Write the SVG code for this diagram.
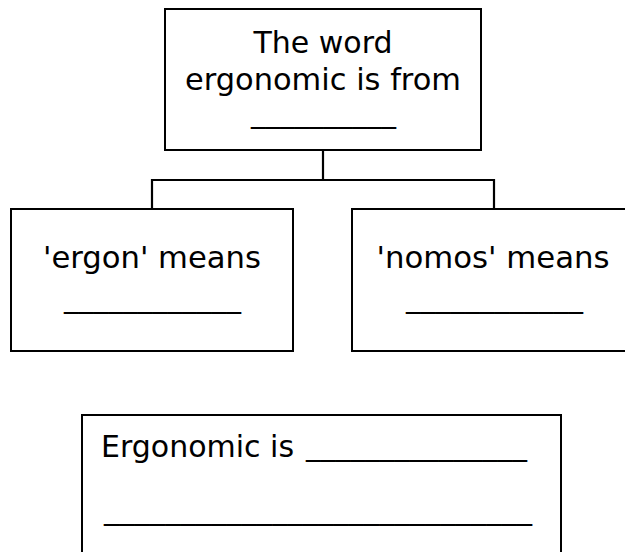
<svg xmlns="http://www.w3.org/2000/svg" width="625" height="552" viewBox="0 0 625 552">
<style>
.box{fill:#fff;stroke:#000;stroke-width:2}
.conn{fill:none;stroke:#000;stroke-width:2.2}
text{font-family:"DejaVu Sans","Liberation Sans",sans-serif;font-size:30px;fill:#000}
.c{text-anchor:middle}
</style>
<rect width="625" height="552" fill="#fff"/>
<g id="connectors">
<path class="conn" d="M323 150V180M152 209V180H494V209"/>
</g>
<g id="top">
<rect class="box" x="165" y="9" width="316" height="141"/>
<text class="c" x="323" y="53">The word</text>
<text class="c" x="323" y="90" textLength="276" lengthAdjust="spacingAndGlyphs">ergonomic is from</text>
<text x="251" y="122" textLength="145" lengthAdjust="spacingAndGlyphs">__________</text>
</g>
<g id="ergon">
<rect class="box" x="11" y="209" width="282" height="142"/>
<text class="c" x="152" y="268" textLength="218" lengthAdjust="spacingAndGlyphs">'ergon' means</text>
<text x="64" y="307" textLength="177" lengthAdjust="spacingAndGlyphs">____________</text>
</g>
<g id="nomos">
<rect class="box" x="352" y="209" width="290" height="142"/>
<text class="c" x="493" y="268" textLength="233" lengthAdjust="spacingAndGlyphs">'nomos' means</text>
<text x="406" y="307" textLength="177" lengthAdjust="spacingAndGlyphs">____________</text>
</g>
<g id="definition">
<rect class="box" x="82" y="415" width="479" height="160"/>
<text x="101" y="457">Ergonomic is <tspan x="306" y="455" textLength="221" lengthAdjust="spacingAndGlyphs">_______________</tspan></text>
<text x="104" y="519" textLength="428" lengthAdjust="spacingAndGlyphs">____________________________</text>
</g>
</svg>
